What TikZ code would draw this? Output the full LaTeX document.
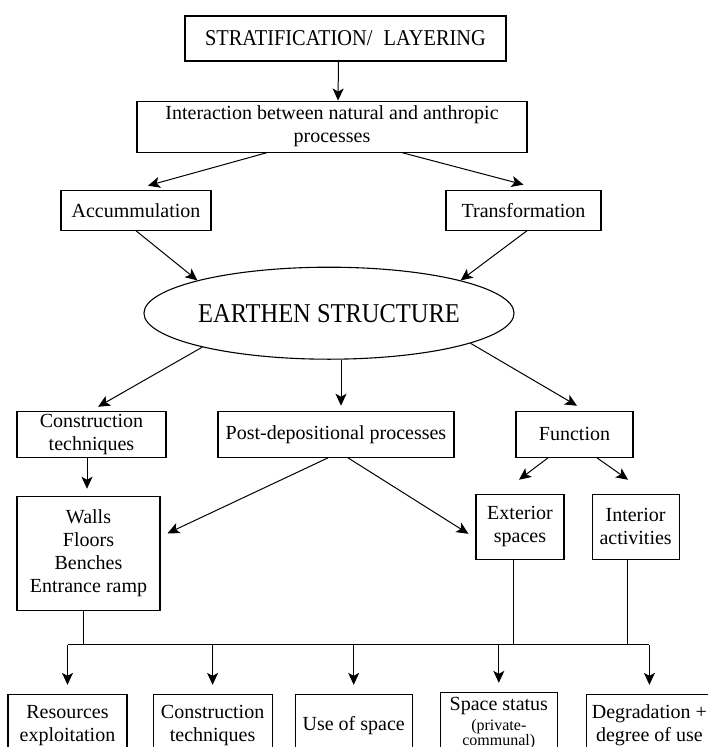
\documentclass[tikz,border=0pt]{standalone}
\usepackage{fontspec}
\setmainfont{Liberation Serif}
\newfontfamily\capsfont{Liberation Serif}[FakeStretch=0.9]
\usetikzlibrary{calc, positioning, shapes.geometric, arrows.meta}

\begin{document}
\begin{tikzpicture}[
        x=1pt, y=1pt,
        box/.style={rectangle, draw=black, line width=1.1pt,
                    align=center, inner xsep=4pt, inner ysep=0pt,
                    font=\fontsize{20pt}{23pt}\selectfont},
        arrow/.style={-{Stealth[length=12pt, width=11pt, inset=3pt]}, line width=1pt},
        link/.style={line width=1pt},
    ]
    \path[use as bounding box, fill=white] (0,0) rectangle (708,-747);

    % 顶部
    \node[box, minimum width=321pt, minimum height=45pt,
          font=\capsfont\fontsize{22.6pt}{26pt}\selectfont] (strat) at (345.5,-38.5)
          {STRATIFICATION/\enspace LAYERING};
    \node[box, minimum width=390pt, minimum height=51pt,
          below=39pt of strat, xshift=-13.5pt] (inter)
          {Interaction between natural and anthropic\\processes};
    \node[box, minimum width=150pt, minimum height=40pt,
          below=37pt of inter, xshift=-196pt] (accum) {Accummulation};
    \node[box, minimum width=155pt, minimum height=40pt,
          below=37pt of inter, xshift=191.5pt] (transf) {Transformation};

    % 中心椭圆
    \node[ellipse, draw=black, line width=1.1pt, inner sep=0pt,
          minimum width=340pt, minimum height=92pt,
          font=\capsfont\fontsize{27.2pt}{30pt}\selectfont,
          below=114pt of inter, xshift=-3pt] (earth) {EARTHEN STRUCTURE};

    % 第三行
    \node[box, minimum width=149pt, minimum height=46pt,
          below=51pt of earth, xshift=-237.5pt] (ct) {Construction\\techniques};
    \node[box, minimum width=236pt, minimum height=46pt,
          below=51pt of earth, xshift=7pt] (pd) {Post-depositional processes};
    \node[box, minimum width=117pt, minimum height=46pt,
          below=51pt of earth, xshift=245.5pt] (func) {Function};

    % 第四行
    \node[box, minimum width=143pt, minimum height=114pt,
          below=136pt of earth, xshift=-240.5pt] (walls)
          {Walls\\Floors\\Benches\\Entrance ramp};
    \node[box, minimum width=88pt, minimum height=65pt,
          below=134pt of earth, xshift=191pt] (ext) {Exterior\\spaces};
    \node[box, minimum width=87pt, minimum height=65pt,
          right=27pt of ext] (int) {Interior\\activities};

    % 底部一行
    \node[box, minimum width=119pt, minimum height=62pt,
          below=83pt of walls, xshift=-21pt] (b1) {Resources\\exploitation};
    \node[box, minimum width=119pt, minimum height=62pt,
          right=25pt of b1] (b2) {Construction\\techniques};
    \node[box, minimum width=117pt, minimum height=62pt,
          right=22pt of b2] (b3) {Use of space};
    \node[box, minimum width=117pt, minimum height=62pt,
          right=27pt of b3, yshift=2pt] (b4)
          {Space status\\[-3pt]{\fontsize{16pt}{17pt}\selectfont (private-}\\[-8pt]%
           {\fontsize{16pt}{17pt}\selectfont communal)}};
    \node[box, minimum width=126pt, minimum height=62pt,
          right=28pt of b4, yshift=-2pt] (b5) {Degradation +\\degree of use};

    % 箭头
    \draw[arrow] ([xshift=-7pt]strat.south) -- ([xshift=6pt]inter.north);
    \draw[arrow] ([xshift=-65pt]inter.south) -- ([xshift=12pt, yshift=4pt]accum.north);
    \draw[arrow] ([xshift=70pt]inter.south) -- ([yshift=5pt]transf.north);
    \draw[arrow] (accum.south) -- (earth.166);
    \draw[arrow] ([xshift=3.5pt]transf.south) -- (earth.14);
    \draw[arrow] (earth.195) -- ([xshift=6.5pt, yshift=4pt]ct.north);
    \draw[arrow] ([xshift=12pt]earth.south) -- ([xshift=5pt, yshift=5pt]pd.north);
    \draw[arrow] (earth.-12) -- ([xshift=2.5pt, yshift=5pt]func.north);
    \draw[arrow] ([xshift=-4.5pt]ct.south) -- ([xshift=-1.5pt, yshift=7pt]walls.north);
    \draw[arrow] ([xshift=-8pt]pd.south) -- ([xshift=7pt, yshift=20pt]walls.east);
    \draw[arrow] ([xshift=12pt]pd.south) -- ([xshift=-7pt, yshift=-7pt]ext.west);
    \draw[arrow] ([xshift=-26.5pt]func.south) -- ([xshift=-1pt, yshift=14pt]ext.north);
    \draw[arrow] ([xshift=22.5pt]func.south) -- ([xshift=-7.5pt, yshift=14pt]int.north);

    % 汇总线
    \coordinate (bus) at ($(walls.south)+(-5.5,-34)$);
    \draw[link] ([xshift=-5.5pt]walls.south) -- (bus);
    \draw[link] ([xshift=-7pt]ext.south) -- ([xshift=-7pt]ext.south |- bus);
    \draw[link] ([xshift=-8.5pt]int.south) -- ([xshift=-8.5pt]int.south |- bus);
    \draw[link] (b1.north |- bus) -- (b5.north |- bus);
    \draw[arrow] (b1.north |- bus) -- ([yshift=9pt]b1.north);
    \draw[arrow] (b2.north |- bus) -- ([yshift=9pt]b2.north);
    \draw[arrow] (b3.north |- bus) -- ([yshift=9pt]b3.north);
    \draw[arrow] (b4.north |- bus) -- ([yshift=9pt]b4.north);
    \draw[arrow] (b5.north |- bus) -- ([yshift=9pt]b5.north);

\end{tikzpicture}
\end{document}
